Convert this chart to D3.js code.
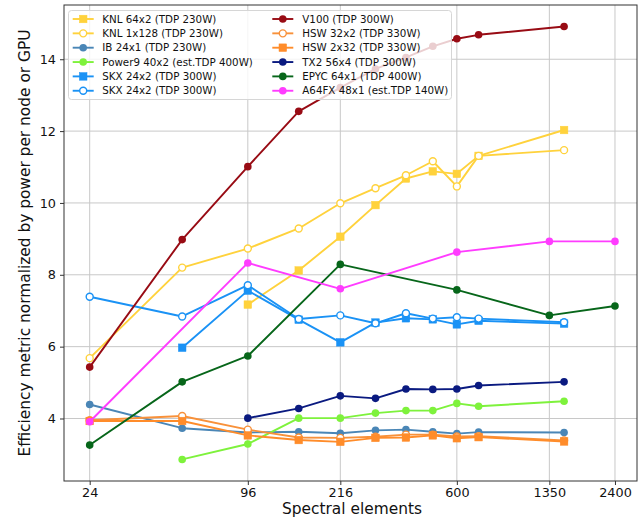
<!DOCTYPE html>
<html><head><meta charset="utf-8">
<script src="https://cdn.jsdelivr.net/npm/d3@7"></script>
<style>body{margin:0;background:#fff}svg{display:block}text{font-family:"DejaVu Sans",sans-serif}</style>
</head><body><div id="chart"></div>
<script>
const xTicks = [24, 96, 216, 600, 1350, 2400];
const yTicks = [4, 6, 8, 10, 12, 14];

const xFull = [24, 54, 96, 150, 216, 294, 384, 486, 600, 726, 1536];
const xFrom54 = [54, 96, 150, 216, 294, 384, 486, 600, 726, 1536];
const xFrom96 = [96, 150, 216, 294, 384, 486, 600, 726, 1536];
const xEpyc = [24, 54, 96, 216, 600, 1350, 2400];
const xA64 = [24, 96, 216, 600, 1350, 2400];

const knl64x2 = [7.17, 8.12, 9.06, 9.94, 10.68, 10.88, 10.81, 11.31, 12.03];
const knl1x128 = [5.68, 8.20, 8.73, 9.29, 9.99, 10.41, 10.77, 11.16, 10.46, 11.31, 11.47];
const ib24x1 = [4.39, 3.73, 3.61, 3.63, 3.59, 3.67, 3.69, 3.63, 3.58, 3.62, 3.61];
const power9 = [2.86, 3.29, 4.01, 4.01, 4.15, 4.22, 4.22, 4.42, 4.34, 4.48];
const skxSq = [5.97, 7.56, 6.75, 6.12, 6.67, 6.79, 6.76, 6.62, 6.72, 6.64];
const skxCirc = [7.39, 6.84, 7.71, 6.77, 6.87, 6.65, 6.93, 6.78, 6.82, 6.78, 6.68];
const v100 = [5.43, 8.98, 11.01, 12.55, 13.21, 13.73, 14.05, 14.36, 14.57, 14.68, 14.91];
const hsw32x2 = [3.95, 4.07, 3.69, 3.47, 3.46, 3.49, 3.55, 3.55, 3.50, 3.51, 3.39];
const hsw2x32 = [3.93, 3.93, 3.53, 3.40, 3.35, 3.46, 3.47, 3.53, 3.45, 3.48, 3.36];
const tx2 = [4.01, 4.28, 4.63, 4.56, 4.82, 4.81, 4.82, 4.92, 5.02];
const epyc = [3.26, 5.02, 5.74, 8.29, 7.58, 6.87, 7.13];
const a64fx = [3.91, 8.33, 7.61, 8.63, 8.93, 8.93];

const seriesNames = ["KNL 64x2 (TDP 230W)", "KNL 1x128 (TDP 230W)", "IB 24x1 (TDP 230W)",
  "Power9 40x2 (est.TDP 400W)", "SKX 24x2 (TDP 300W)", "SKX 24x2 (TDP 300W)",
  "V100 (TDP 300W)", "HSW 32x2 (TDP 330W)", "HSW 2x32 (TDP 330W)",
  "TX2 56x4 (TDP 300W)", "EPYC 64x1 (TDP 400W)", "A64FX 48x1 (est.TDP 140W)"];

const series = [
  {name: seriesNames[0], xs: xFrom96, ys: knl64x2, color: "#ffd23c", marker: "square"},
  {name: seriesNames[1], xs: xFull, ys: knl1x128, color: "#ffd23c", marker: "open"},
  {name: seriesNames[2], xs: xFull, ys: ib24x1, color: "#4a86b6", marker: "circle"},
  {name: seriesNames[3], xs: xFrom54, ys: power9, color: "#7ef23c", marker: "circle"},
  {name: seriesNames[4], xs: xFrom54, ys: skxSq, color: "#1a92f5", marker: "square"},
  {name: seriesNames[5], xs: xFull, ys: skxCirc, color: "#1a92f5", marker: "open"},
  {name: seriesNames[6], xs: xFull, ys: v100, color: "#980b14", marker: "circle"},
  {name: seriesNames[7], xs: xFull, ys: hsw32x2, color: "#f8913a", marker: "open"},
  {name: seriesNames[8], xs: xFull, ys: hsw2x32, color: "#ff8c2a", marker: "square"},
  {name: seriesNames[9], xs: xFrom96, ys: tx2, color: "#0a1a80", marker: "circle"},
  {name: seriesNames[10], xs: xEpyc, ys: epyc, color: "#07661a", marker: "circle"},
  {name: seriesNames[11], xs: xA64, ys: a64fx, color: "#ff3cff", marker: "circle"}
];

const W = 642, H = 519;
const L = 64, R = 637, T = 5, B = 481;
const svg = d3.select("#chart").append("svg").attr("width", W).attr("height", H);

const x = d3.scaleLog().domain([19.16, 2911]).range([L, R]);
const y = d3.scaleLinear().domain([2.26, 15.51]).range([B, T]);

// grid
const g = svg.append("g");
g.selectAll(".gx").data(xTicks).enter().append("line")
  .attr("x1", d => x(d)).attr("x2", d => x(d)).attr("y1", T).attr("y2", B)
  .attr("stroke", "#c8c8c8").attr("stroke-width", 1);
g.selectAll(".gy").data(yTicks).enter().append("line")
  .attr("y1", d => y(d)).attr("y2", d => y(d)).attr("x1", L).attr("x2", R)
  .attr("stroke", "#c8c8c8").attr("stroke-width", 1);

// axes
const xAxis = d3.axisBottom(x).tickValues(xTicks).tickFormat(d3.format("d")).tickSize(4).tickPadding(3);
const yAxis = d3.axisLeft(y).tickValues(yTicks).tickFormat(d3.format("d")).tickSize(4).tickPadding(4);
const ax = svg.append("g").attr("transform", `translate(0,${B})`).call(xAxis);
const ay = svg.append("g").attr("transform", `translate(${L},0)`).call(yAxis);
[ax, ay].forEach(a => {
  a.select(".domain").remove();
  a.selectAll("text").attr("font-size", 12.8).attr("fill", "#111").style("font-family", "DejaVu Sans");
  a.selectAll("line").attr("stroke", "#333");
});
svg.append("rect").attr("x", L).attr("y", T).attr("width", R - L).attr("height", B - T)
  .attr("fill", "none").attr("stroke", "#333").attr("stroke-width", 1);

svg.append("text").attr("x", 352).attr("y", 514).attr("text-anchor", "middle")
  .attr("font-size", 15.4).attr("fill", "#111").text("Spectral elements");
svg.append("text").attr("transform", `translate(30,${(T + B) / 2}) rotate(-90)`)
  .attr("text-anchor", "middle").attr("font-size", 15.4).attr("fill", "#111")
  .text("Efficiency metric normalized by power per node or GPU");

function drawMarker(sel, m, color, cx, cy) {
  if (m === "square") {
    sel.append("rect").attr("x", cx - 3.8).attr("y", cy - 3.8).attr("width", 7.6).attr("height", 7.6)
      .attr("fill", color).attr("stroke", color).attr("stroke-width", 0.5);
  } else if (m === "open") {
    sel.append("circle").attr("cx", cx).attr("cy", cy).attr("r", 3.5)
      .attr("fill", "#fff").attr("stroke", color).attr("stroke-width", 1.4);
  } else {
    sel.append("circle").attr("cx", cx).attr("cy", cy).attr("r", 3.8)
      .attr("fill", color);
  }
}

const line = d3.line().x(d => x(d[0])).y(d => y(d[1]));
const plot = svg.append("g");
series.forEach(s => {
  const pts = s.xs.map((xv, i) => [xv, s.ys[i]]);
  const sg = plot.append("g");
  sg.append("path").attr("d", line(pts)).attr("fill", "none")
    .attr("stroke", s.color).attr("stroke-width", 1.9).attr("stroke-linejoin", "round");
  pts.forEach(p => drawMarker(sg, s.marker, s.color, x(p[0]), y(p[1])));
});

// legend
const lg = svg.append("g");
lg.append("rect").attr("x", 68.5).attr("y", 10.5).attr("width", 383).attr("height", 89)
  .attr("rx", 3).attr("fill", "#fff").attr("fill-opacity", 0.8)
  .attr("stroke", "#d6d6d6").attr("stroke-width", 1);
series.forEach((s, i) => {
  const col = i < 6 ? 0 : 1;
  const row = i % 6;
  const hx = col === 0 ? 72.7 : 272.3;
  const tx = col === 0 ? 102.3 : 302.3;
  const cy = 19 + row * 14.35;
  lg.append("line").attr("x1", hx).attr("x2", hx + 21).attr("y1", cy).attr("y2", cy)
    .attr("stroke", s.color).attr("stroke-width", 1.9);
  drawMarker(lg, s.marker, s.color, hx + 10.5, cy);
  lg.append("text").attr("x", tx).attr("y", cy + 3.7).attr("font-size", 10.3)
    .attr("fill", "#111").text(s.name);
});
</script></body></html>
